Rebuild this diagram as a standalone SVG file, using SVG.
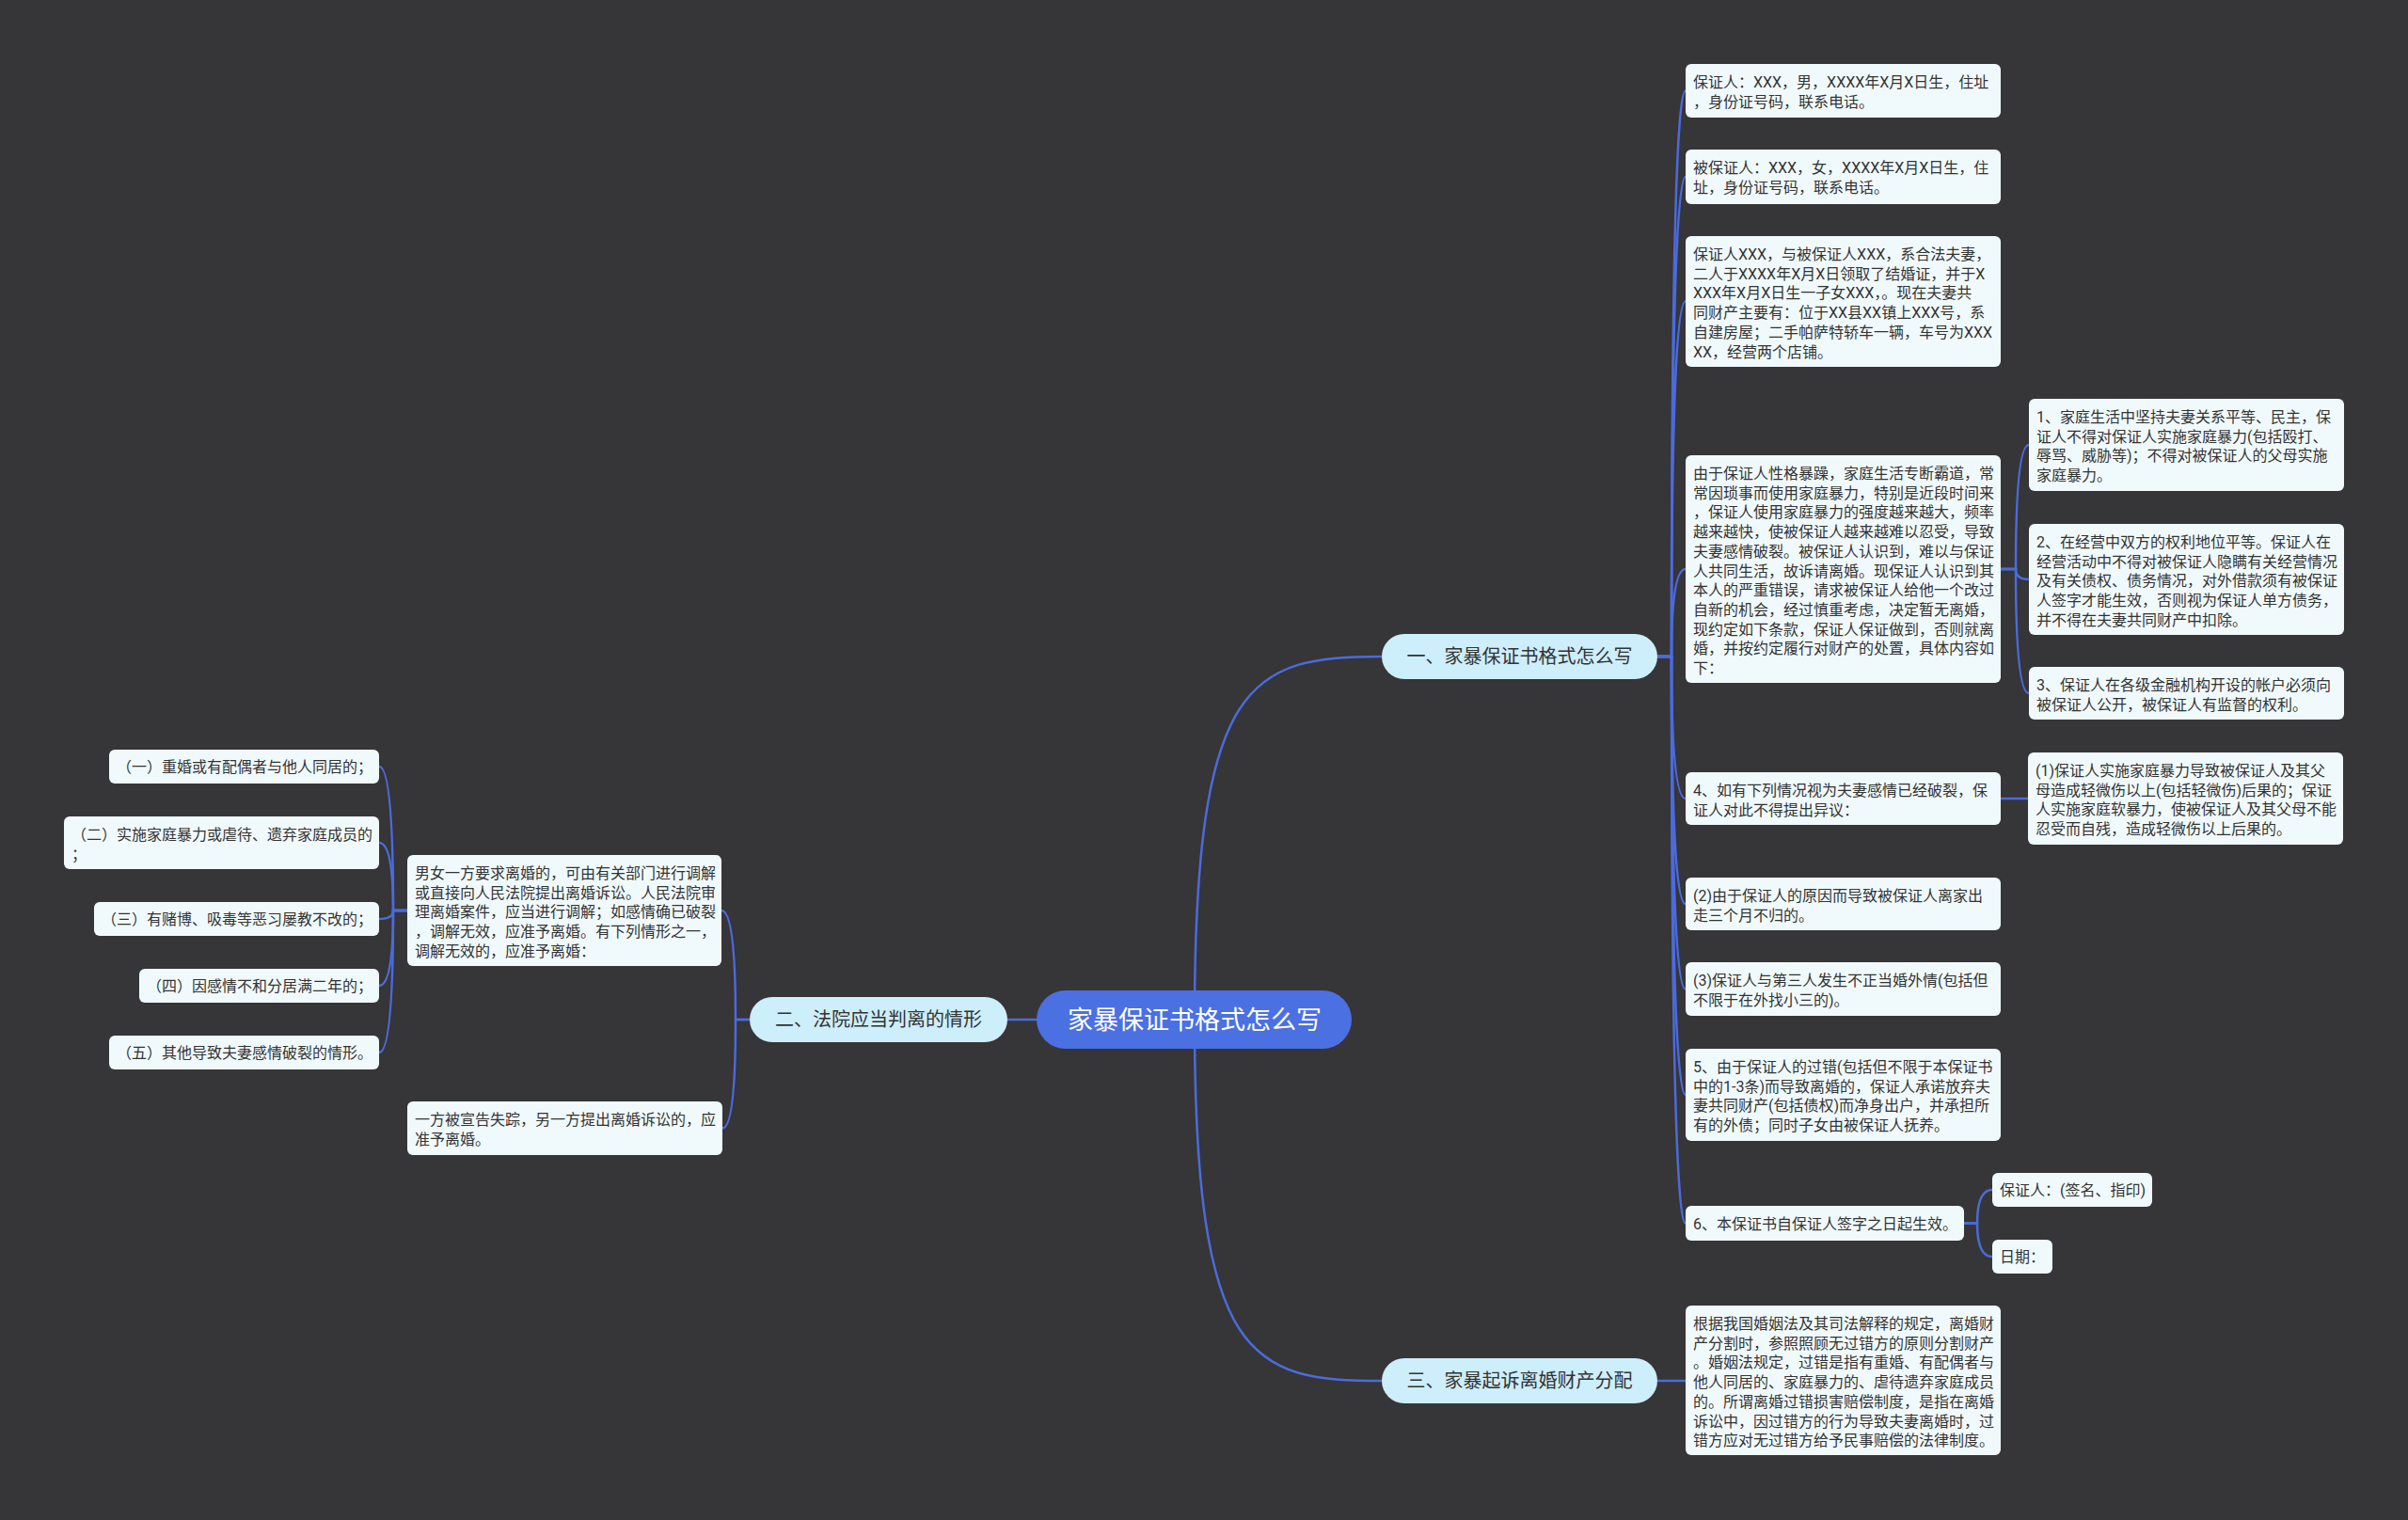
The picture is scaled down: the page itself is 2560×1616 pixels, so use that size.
<svg xmlns="http://www.w3.org/2000/svg" width="2560" height="1616" viewBox="0 0 2560 1616">
<style>
.bg{fill:#363537}
.c{fill:none;stroke:#4b6bdc;stroke-width:2.5}
.leaf{fill:#f0fafc}
.l1{fill:#cdeefb}
.root{fill:#4b70e2}
.t{font-family:Roboto,"Noto Sans CJK SC","Noto Sans",sans-serif;font-size:16px;fill:#333333}
.t1{font-family:"Noto Sans CJK SC","Noto Sans",sans-serif;font-size:20px;fill:#333333;text-anchor:middle}
.t0{font-family:"Noto Sans CJK SC","Noto Sans",sans-serif;font-size:27px;fill:#ffffff;text-anchor:middle}
</style>
<rect class="bg" x="0" y="0" width="2560" height="1616"/>
<g id="connectors">
<path class="c" d="M1270,1084 C1270,720 1330,698 1469,698"/>
<path class="c" d="M1270,1084 C1270,1448 1330,1468 1469,1468"/>
<path class="c" d="M1270,1084 H1071"/>
<path class="c" d="M1762,698 H1777 Q1777,96.5 1792,96.5"/>
<path class="c" d="M1762,698 H1777 Q1777,188 1792,188"/>
<path class="c" d="M1762,698 H1777 Q1777,320.5 1792,320.5"/>
<path class="c" d="M1762,698 H1777 Q1777,605 1792,605"/>
<path class="c" d="M1762,698 H1777 Q1777,849 1792,849"/>
<path class="c" d="M1762,698 H1777 Q1777,961 1792,961"/>
<path class="c" d="M1762,698 H1777 Q1777,1051.5 1792,1051.5"/>
<path class="c" d="M1762,698 H1777 Q1777,1164 1792,1164"/>
<path class="c" d="M1762,698 H1777 Q1777,1300.5 1792,1300.5"/>
<path class="c" d="M1762,1468 H1792"/>
<path class="c" d="M2127,605 H2143 Q2143,473 2157,473"/>
<path class="c" d="M2127,605 H2143 Q2143,616 2157,616"/>
<path class="c" d="M2127,605 H2143 Q2143,737 2157,737"/>
<path class="c" d="M2127,849 H2156"/>
<path class="c" d="M2088,1300.5 H2102 Q2102,1265 2118,1265"/>
<path class="c" d="M2088,1300.5 H2102 Q2102,1336 2118,1336"/>
<path class="c" d="M797,1084 H782 Q782,968 767,968"/>
<path class="c" d="M797,1084 H782 Q782,1199.5 768,1199.5"/>
<path class="c" d="M433,968 H418 Q418,815 403,815"/>
<path class="c" d="M433,968 H418 Q418,896 403,896"/>
<path class="c" d="M433,968 H418 Q418,977 403,977"/>
<path class="c" d="M433,968 H418 Q418,1048 403,1048"/>
<path class="c" d="M433,968 H418 Q418,1119 403,1119"/>
</g>
<g id="root">
<rect class="root" x="1102" y="1053" width="335" height="62" rx="31"/>
<text class="t0" x="1270" y="1094">家暴保证书格式怎么写</text>
</g>
<g id="n1">
<rect class="l1" x="1469" y="674" width="293" height="48" rx="24"/>
<text class="t1" x="1615.5" y="705">一、家暴保证书格式怎么写</text>
</g>
<g id="n2">
<rect class="l1" x="797" y="1060" width="274" height="48" rx="24"/>
<text class="t1" x="934" y="1091">二、法院应当判离的情形</text>
</g>
<g id="n3">
<rect class="l1" x="1469" y="1444" width="293" height="48" rx="24"/>
<text class="t1" x="1615.5" y="1475">三、家暴起诉离婚财产分配</text>
</g>
<g id="a1">
<rect class="leaf" x="1792" y="68" width="335" height="57" rx="6"/>
<text class="t" x="1800" y="93"><tspan x="1800">保证人：XXX，男，XXXX年X月X日生，住址</tspan><tspan x="1800" dy="20.7">，身份证号码，联系电话。</tspan></text>
</g>
<g id="a2">
<rect class="leaf" x="1792" y="159" width="335" height="58" rx="6"/>
<text class="t" x="1800" y="184"><tspan x="1800">被保证人：XXX，女，XXXX年X月X日生，住</tspan><tspan x="1800" dy="20.7">址，身份证号码，联系电话。</tspan></text>
</g>
<g id="a3">
<rect class="leaf" x="1792" y="251" width="335" height="139" rx="6"/>
<text class="t" x="1800" y="276"><tspan x="1800">保证人XXX，与被保证人XXX，系合法夫妻，</tspan><tspan x="1800" dy="20.7">二人于XXXX年X月X日领取了结婚证，并于X</tspan><tspan x="1800" dy="20.7">XXX年X月X日生一子女XXX，。现在夫妻共</tspan><tspan x="1800" dy="20.7">同财产主要有：位于XX县XX镇上XXX号，系</tspan><tspan x="1800" dy="20.7">自建房屋；二手帕萨特轿车一辆，车号为XXX</tspan><tspan x="1800" dy="20.7">XX，经营两个店铺。</tspan></text>
</g>
<g id="a4">
<rect class="leaf" x="1792" y="484" width="335" height="242" rx="6"/>
<text class="t" x="1800" y="509"><tspan x="1800">由于保证人性格暴躁，家庭生活专断霸道，常</tspan><tspan x="1800" dy="20.7">常因琐事而使用家庭暴力，特别是近段时间来</tspan><tspan x="1800" dy="20.7">，保证人使用家庭暴力的强度越来越大，频率</tspan><tspan x="1800" dy="20.7">越来越快，使被保证人越来越难以忍受，导致</tspan><tspan x="1800" dy="20.7">夫妻感情破裂。被保证人认识到，难以与保证</tspan><tspan x="1800" dy="20.7">人共同生活，故诉请离婚。现保证人认识到其</tspan><tspan x="1800" dy="20.7">本人的严重错误，请求被保证人给他一个改过</tspan><tspan x="1800" dy="20.7">自新的机会，经过慎重考虑，决定暂无离婚，</tspan><tspan x="1800" dy="20.7">现约定如下条款，保证人保证做到，否则就离</tspan><tspan x="1800" dy="20.7">婚，并按约定履行对财产的处置，具体内容如</tspan><tspan x="1800" dy="20.7">下：</tspan></text>
</g>
<g id="b1">
<rect class="leaf" x="2157" y="424" width="335" height="98" rx="6"/>
<text class="t" x="2165" y="449"><tspan x="2165">1、家庭生活中坚持夫妻关系平等、民主，保</tspan><tspan x="2165" dy="20.7">证人不得对保证人实施家庭暴力(包括殴打、</tspan><tspan x="2165" dy="20.7">辱骂、威胁等)；不得对被保证人的父母实施</tspan><tspan x="2165" dy="20.7">家庭暴力。</tspan></text>
</g>
<g id="b2">
<rect class="leaf" x="2157" y="557" width="335" height="118" rx="6"/>
<text class="t" x="2165" y="582"><tspan x="2165">2、在经营中双方的权利地位平等。保证人在</tspan><tspan x="2165" dy="20.7">经营活动中不得对被保证人隐瞒有关经营情况</tspan><tspan x="2165" dy="20.7">及有关债权、债务情况，对外借款须有被保证</tspan><tspan x="2165" dy="20.7">人签字才能生效，否则视为保证人单方债务，</tspan><tspan x="2165" dy="20.7">并不得在夫妻共同财产中扣除。</tspan></text>
</g>
<g id="b3">
<rect class="leaf" x="2157" y="709" width="335" height="56" rx="6"/>
<text class="t" x="2165" y="734"><tspan x="2165">3、保证人在各级金融机构开设的帐户必须向</tspan><tspan x="2165" dy="20.7">被保证人公开，被保证人有监督的权利。</tspan></text>
</g>
<g id="a5">
<rect class="leaf" x="1792" y="821" width="335" height="56" rx="6"/>
<text class="t" x="1800" y="846"><tspan x="1800">4、如有下列情况视为夫妻感情已经破裂，保</tspan><tspan x="1800" dy="20.7">证人对此不得提出异议：</tspan></text>
</g>
<g id="c1">
<rect class="leaf" x="2156" y="800" width="335" height="98" rx="6"/>
<text class="t" x="2164" y="825"><tspan x="2164">(1)保证人实施家庭暴力导致被保证人及其父</tspan><tspan x="2164" dy="20.7">母造成轻微伤以上(包括轻微伤)后果的；保证</tspan><tspan x="2164" dy="20.7">人实施家庭软暴力，使被保证人及其父母不能</tspan><tspan x="2164" dy="20.7">忍受而自残，造成轻微伤以上后果的。</tspan></text>
</g>
<g id="a6">
<rect class="leaf" x="1792" y="933" width="335" height="56" rx="6"/>
<text class="t" x="1800" y="958"><tspan x="1800">(2)由于保证人的原因而导致被保证人离家出</tspan><tspan x="1800" dy="20.7">走三个月不归的。</tspan></text>
</g>
<g id="a7">
<rect class="leaf" x="1792" y="1023" width="335" height="57" rx="6"/>
<text class="t" x="1800" y="1048"><tspan x="1800">(3)保证人与第三人发生不正当婚外情(包括但</tspan><tspan x="1800" dy="20.7">不限于在外找小三的)。</tspan></text>
</g>
<g id="a8">
<rect class="leaf" x="1792" y="1115" width="335" height="98" rx="6"/>
<text class="t" x="1800" y="1140"><tspan x="1800">5、由于保证人的过错(包括但不限于本保证书</tspan><tspan x="1800" dy="20.7">中的1-3条)而导致离婚的，保证人承诺放弃夫</tspan><tspan x="1800" dy="20.7">妻共同财产(包括债权)而净身出户，并承担所</tspan><tspan x="1800" dy="20.7">有的外债；同时子女由被保证人抚养。</tspan></text>
</g>
<g id="a9">
<rect class="leaf" x="1792" y="1282" width="296" height="37" rx="6"/>
<text class="t" x="1800" y="1307">6、本保证书自保证人签字之日起生效。</text>
</g>
<g id="d1">
<rect class="leaf" x="2118" y="1247" width="170" height="36" rx="6"/>
<text class="t" x="2126" y="1271">保证人：(签名、指印)</text>
</g>
<g id="d2">
<rect class="leaf" x="2118" y="1318" width="64" height="36" rx="6"/>
<text class="t" x="2126" y="1342">日期：</text>
</g>
<g id="e1">
<rect class="leaf" x="1792" y="1388" width="335" height="159" rx="6"/>
<text class="t" x="1800" y="1413"><tspan x="1800">根据我国婚姻法及其司法解释的规定，离婚财</tspan><tspan x="1800" dy="20.7">产分割时，参照照顾无过错方的原则分割财产</tspan><tspan x="1800" dy="20.7">。婚姻法规定，过错是指有重婚、有配偶者与</tspan><tspan x="1800" dy="20.7">他人同居的、家庭暴力的、虐待遗弃家庭成员</tspan><tspan x="1800" dy="20.7">的。所谓离婚过错损害赔偿制度，是指在离婚</tspan><tspan x="1800" dy="20.7">诉讼中，因过错方的行为导致夫妻离婚时，过</tspan><tspan x="1800" dy="20.7">错方应对无过错方给予民事赔偿的法律制度。</tspan></text>
</g>
<g id="f1">
<rect class="leaf" x="433" y="909" width="334" height="118" rx="6"/>
<text class="t" x="441" y="934"><tspan x="441">男女一方要求离婚的，可由有关部门进行调解</tspan><tspan x="441" dy="20.7">或直接向人民法院提出离婚诉讼。人民法院审</tspan><tspan x="441" dy="20.7">理离婚案件，应当进行调解；如感情确已破裂</tspan><tspan x="441" dy="20.7">，调解无效，应准予离婚。有下列情形之一，</tspan><tspan x="441" dy="20.7">调解无效的，应准予离婚：</tspan></text>
</g>
<g id="g1">
<rect class="leaf" x="433" y="1171" width="335" height="57" rx="6"/>
<text class="t" x="441" y="1196"><tspan x="441">一方被宣告失踪，另一方提出离婚诉讼的，应</tspan><tspan x="441" dy="20.7">准予离婚。</tspan></text>
</g>
<g id="l1">
<rect class="leaf" x="116" y="797" width="287" height="36" rx="6"/>
<text class="t" x="124" y="821">（一）重婚或有配偶者与他人同居的；</text>
</g>
<g id="l2">
<rect class="leaf" x="68" y="868" width="335" height="56" rx="6"/>
<text class="t" x="76" y="893"><tspan x="76">（二）实施家庭暴力或虐待、遗弃家庭成员的</tspan><tspan x="76" dy="20.7">；</tspan></text>
</g>
<g id="l3">
<rect class="leaf" x="100" y="959" width="303" height="36" rx="6"/>
<text class="t" x="108" y="983">（三）有赌博、吸毒等恶习屡教不改的；</text>
</g>
<g id="l4">
<rect class="leaf" x="148" y="1030" width="255" height="36" rx="6"/>
<text class="t" x="156" y="1054">（四）因感情不和分居满二年的；</text>
</g>
<g id="l5">
<rect class="leaf" x="116" y="1101" width="287" height="36" rx="6"/>
<text class="t" x="124" y="1125">（五）其他导致夫妻感情破裂的情形。</text>
</g>
</svg>
